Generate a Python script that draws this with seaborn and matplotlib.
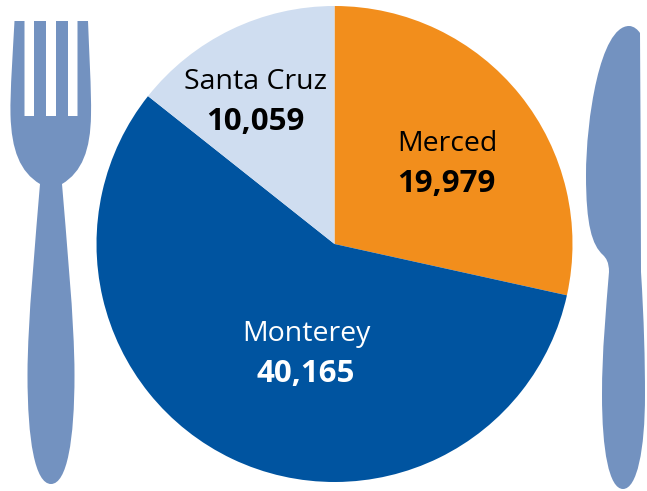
import matplotlib
matplotlib.use("Agg")
import matplotlib.pyplot as plt
import seaborn as sns
from matplotlib.path import Path
from matplotlib.patches import PathPatch

# Data
counties = ["Merced", "Monterey", "Santa Cruz"]
counts = [19979, 40165, 10059]
colors = ["#F28E1C", "#0054A0", "#CFDDF0"]
text_colors = ["black", "white", "black"]
label_xy = [(447, 144), (306, 334), (256, 82)]

sns.set_theme(style="white")
plt.rcParams["font.family"] = ["Open Sans", "DejaVu Sans"]

W, H = 647, 491
UTENSIL = "#7392C0"

fig = plt.figure(figsize=(W / 100, H / 100), dpi=100)
ax = fig.add_axes([0, 0, 1, 1])

# pie in pixel coordinates, y flipped by hand so clockwise stays clockwise
ax.pie(counts, colors=sns.color_palette(colors), startangle=90, counterclock=False,
       center=(334.5, H - 244), radius=238, frame=True,
       wedgeprops={"linewidth": 0})
ax.set_xlim(0, W)
ax.set_ylim(0, H)
ax.set_aspect("equal")
ax.axis("off")

for name, value, (x, y), tc in zip(counties, counts, label_xy, text_colors):
    ax.text(x, H - y, name, color=tc, fontsize=20.5, ha="center", va="center")
    ax.text(x - 0.5, H - y - 39.5, f"{value:,}", color=tc, fontsize=22.5,
            fontweight="bold", ha="center", va="center")


def shape(start, segs):
    # segs: L (x, y) or C (x1, y1, x2, y2, x, y), in image pixels
    verts = [(start[0], H - start[1])]
    codes = [Path.MOVETO]
    for s in segs:
        if len(s) == 2:
            verts.append((s[0], H - s[1]))
            codes.append(Path.LINETO)
        else:
            verts += [(s[0], H - s[1]), (s[2], H - s[3]), (s[4], H - s[5])]
            codes += [Path.CURVE4] * 3
    verts.append(verts[0])
    codes.append(Path.CLOSEPOLY)
    return Path(verts, codes)


fork = shape((14.5, 21), [
    (24.5, 21), (24.5, 116), (34, 116), (34, 21), (46, 21), (46, 116), (56, 116),
    (56, 21), (68, 21), (68, 116), (77.5, 116), (77.5, 21), (88, 21),
    (89, 50, 91.5, 90, 91, 115),
    (90.5, 150, 82, 172, 62, 184),
    (66, 235, 74.5, 320, 74.5, 375),
    (74.5, 440, 67, 484, 51, 484),
    (35, 484, 27.5, 440, 27.5, 375),
    (27.5, 320, 36, 235, 40, 184),
    (20, 172, 11.5, 150, 10.5, 115),
    (10, 90, 13, 50, 14.5, 21),
])
knife = shape((640, 33), [
    (640.5, 120), (641, 272),
    (644, 320, 645, 360, 645, 395),
    (645, 450, 637, 489, 623, 489),
    (609, 489, 602, 450, 602, 395),
    (602, 350, 606, 310, 609, 272),
    (609, 262, 606, 258, 603, 255),
    (592, 245, 586, 225, 586, 175),
    (586, 120, 600, 26, 629, 26),
    (634, 26, 638, 30, 640, 33),
])
for p in (fork, knife):
    ax.add_patch(PathPatch(p, facecolor=UTENSIL, edgecolor="none"))

fig.savefig("out.png", dpi=100, facecolor="white")
